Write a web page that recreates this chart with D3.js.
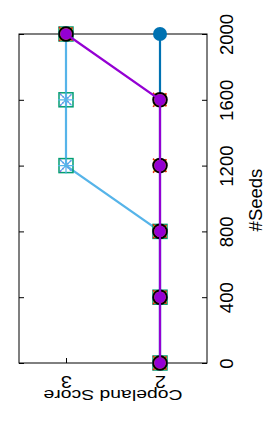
<!DOCTYPE html>
<html>
<head>
<meta charset="utf-8">
<script src="https://cdn.jsdelivr.net/npm/d3@7"></script>
<style>
  body { margin: 0; background: #fff; }
  svg { display: block; font-family: "Liberation Sans", Arial, sans-serif; }
</style>
</head>
<body>
<div class="chart"></div>
<script>
// seeds along the (rotated) vertical axis, copeland score across
const seeds = [0, 400, 800, 1200, 1600, 2000];
const seedTicks = [0, 400, 800, 1200, 1600, 2000];
const scoreTicks = [2, 3];

// series, in draw order (last one on top)
const blueCircle   = [2, 2, 2, 2, 2, 2];
const lightBlueStar = [2, 2, 2, 3, 3, 3];
const greenSquare  = [2, 2, 2, 3, 3, 3];
const magentaX     = [2, 2, 2, 3, 3, 3];
const orangeSquare = [2, 2, 2, 2, 2, 3];
const redX         = [2, 2, 2, 2, 2, 3];
const blackCircle  = [2, 2, 2, 2, 2, 3];
const purpleCircle = [2, 2, 2, 2, 2, 3];

const W = 269, H = 423;
const frame = {left: 19, right: 207, top: 34, bottom: 363};

const svg = d3.select(".chart").append("svg")
  .attr("width", W)
  .attr("height", H);

let yScale = d3.scaleLinear().domain([0, 2000]).range([frame.bottom, frame.top]);
let xScale = d3.scaleLinear().domain([1.5, 3.5]).range([frame.right, frame.left]);

// frame
svg.append("rect")
  .attr("x", frame.left).attr("y", frame.top)
  .attr("width", frame.right - frame.left)
  .attr("height", frame.bottom - frame.top)
  .attr("fill", "none").attr("stroke", "#000").attr("stroke-width", 1);

// seeds axis on the right, labels turned
svg.append("g")
  .attr("class", "axis seeds")
  .attr("transform", `translate(${frame.right},0)`)
  .call(d3.axisRight(yScale).tickValues(seedTicks).tickSizeInner(-5).tickSizeOuter(0).tickFormat(d3.format("d")))
  .call(g => g.select(".domain").remove())
  .call(g => g.selectAll(".tick text")
    .attr("x", 0).attr("y", 0).attr("dy", "0.35em")
    .attr("text-anchor", "middle")
    .attr("transform", "translate(20,0) rotate(-90)")
    .attr("font-size", 18.5).attr("font-family", null).attr("fill", "#000"));

// mirrored seed ticks on the left edge
svg.append("g")
  .attr("transform", `translate(${frame.left},0)`)
  .call(d3.axisLeft(yScale).tickValues(seedTicks).tickSizeInner(-5).tickSizeOuter(0).tickFormat(""))
  .call(g => g.select(".domain").remove());

// score axis at the bottom, labels upside down
svg.append("g")
  .attr("class", "axis score")
  .attr("transform", `translate(0,${frame.bottom})`)
  .call(d3.axisBottom(xScale).tickValues(scoreTicks).tickSizeInner(-5).tickSizeOuter(0).tickFormat(d3.format("d")))
  .call(g => g.select(".domain").remove())
  .call(g => g.selectAll(".tick text")
    .attr("x", 0).attr("y", 0).attr("dy", "0.35em")
    .attr("text-anchor", "middle")
    .attr("transform", "translate(0,19) rotate(180) scale(1.25,1)")
    .attr("font-size", 16).attr("font-family", null).attr("fill", "#000"));

svg.append("g")
  .attr("transform", `translate(0,${frame.top})`)
  .call(d3.axisTop(xScale).tickValues(scoreTicks).tickSizeInner(-5).tickSizeOuter(0).tickFormat(""))
  .call(g => g.select(".domain").remove());

// axis titles
svg.append("text")
  .attr("transform", "translate(256,200) rotate(-90)")
  .attr("text-anchor", "middle").attr("dy", "0.35em")
  .attr("font-size", 18.5)
  .text("#Seeds");

svg.append("text")
  .attr("transform", "translate(113,395) rotate(180) scale(1.25,1)")
  .attr("text-anchor", "middle").attr("dy", "0.35em")
  .attr("font-size", 15.5)
  .text("Copeland Score");

const plot = svg.append("g");

function rows(vals) {
  return seeds.map((s, i) => ({seed: s, score: vals[i]}));
}

const line = d3.line()
  .x(d => xScale(d.score))
  .y(d => yScale(d.seed));

function drawLine(vals, color) {
  plot.append("path")
    .datum(rows(vals))
    .attr("d", line)
    .attr("fill", "none")
    .attr("stroke", color)
    .attr("stroke-width", 2.2);
}

function drawMarks(vals, kind, color, r) {
  const g = plot.append("g");
  const pts = g.selectAll("g").data(rows(vals)).enter().append("g")
    .attr("transform", d => `translate(${xScale(d.score)},${yScale(d.seed)})`);
  if (kind === "fcircle") {
    pts.append("circle").attr("r", r).attr("fill", color);
  } else if (kind === "ocircle") {
    pts.append("circle").attr("r", r).attr("fill", "none").attr("stroke", color).attr("stroke-width", 2);
  } else if (kind === "osquare") {
    pts.append("rect").attr("x", -r).attr("y", -r).attr("width", 2 * r).attr("height", 2 * r)
      .attr("fill", "none").attr("stroke", color).attr("stroke-width", 1.5);
  } else if (kind === "fsquare") {
    pts.append("rect").attr("x", -r).attr("y", -r).attr("width", 2 * r).attr("height", 2 * r).attr("fill", color);
  } else if (kind === "x") {
    pts.append("path").attr("d", `M${-r},${-r}L${r},${r}M${-r},${r}L${r},${-r}`)
      .attr("stroke", color).attr("stroke-width", 1.5).attr("stroke-dasharray", "1.5,2");
  } else if (kind === "star") {
    pts.append("path").attr("d", `M${-r},0L${r},0M0,${-r}L0,${r}M${-r * 0.7},${-r * 0.7}L${r * 0.7},${r * 0.7}M${-r * 0.7},${r * 0.7}L${r * 0.7},${-r * 0.7}`)
      .attr("stroke", color).attr("stroke-width", 1.2);
  }
}

drawLine(blueCircle, "#0072b2");
drawMarks(blueCircle, "fcircle", "#0072b2", 7);

drawLine(lightBlueStar, "#56b4e9");
drawMarks(greenSquare, "osquare", "#009e73", 7);
drawMarks(magentaX, "x", "#b030d0", 6);
drawMarks(lightBlueStar, "star", "#56b4e9", 8);

drawMarks(orangeSquare, "fsquare", "#e69f00", 6.5);
drawMarks(redX, "x", "#e51e10", 7);
drawMarks(blackCircle, "ocircle", "#000", 6.8);

drawLine(purpleCircle, "#9400d3");
drawMarks(purpleCircle, "fcircle", "#9400d3", 5.8);
</script>
</body>
</html>
